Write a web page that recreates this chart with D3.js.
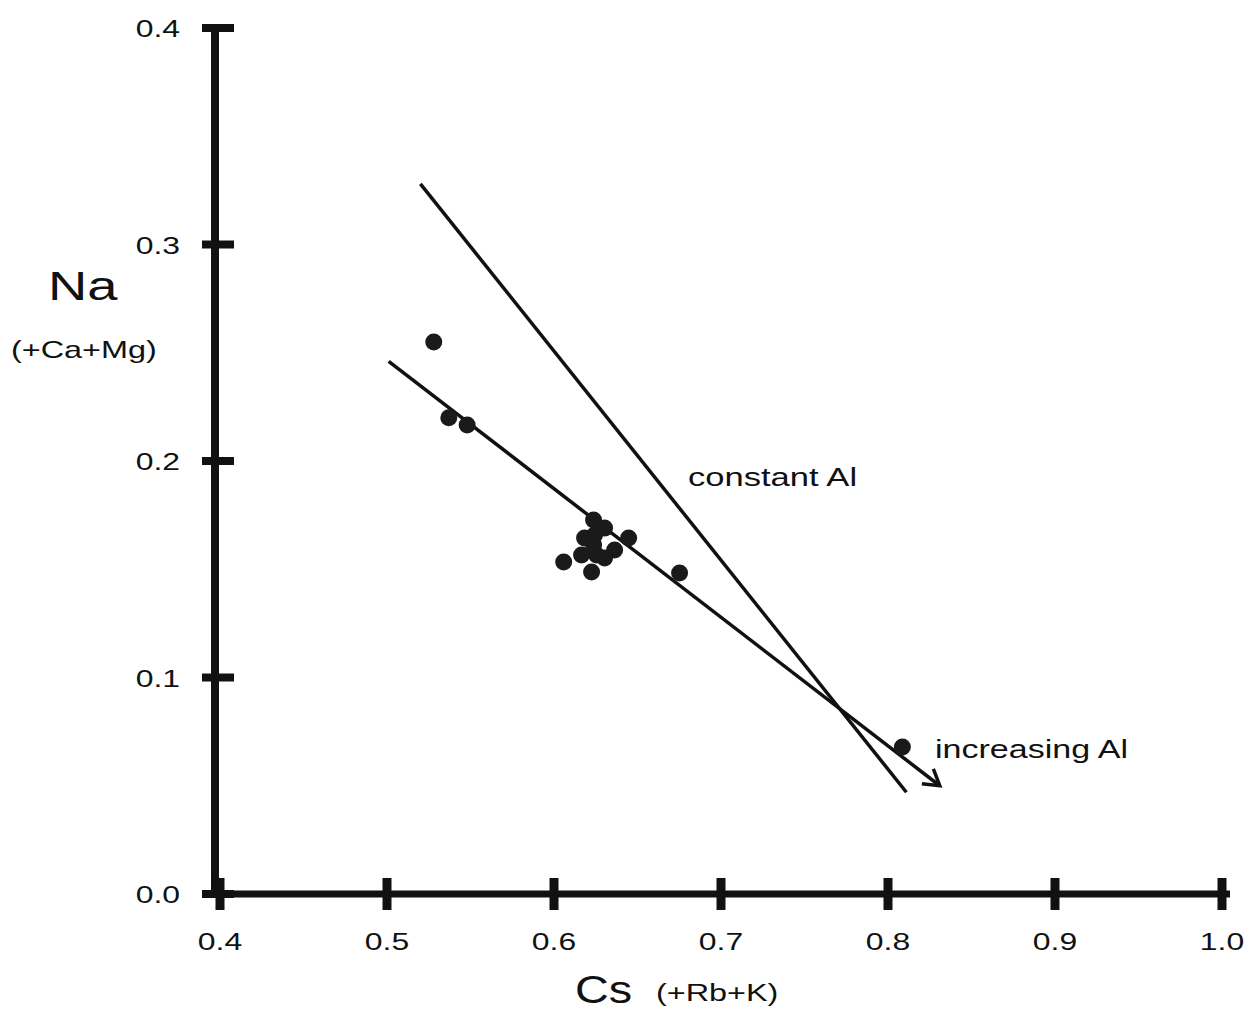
<!DOCTYPE html>
<html><head><meta charset="utf-8">
<script src="https://cdn.jsdelivr.net/npm/d3@7"></script>
<style>body{margin:0;background:#fff}text{font-family:"Liberation Sans",Arial,sans-serif;fill:#111}</style>
</head><body><svg id="c" width="1248" height="1023"></svg>
<script>
const xTicks = [0.4,0.5,0.6,0.7,0.8,0.9,1.0];
const yTicks = [0.0,0.1,0.2,0.3,0.4];
const ptX = [0.528,0.537,0.548,0.6237,0.6303,0.6183,0.6243,0.6447,0.6363,0.6165,0.6255,0.6058,0.6225,0.6237,0.6303,0.6752,0.8086];
const ptY = [0.255,0.220,0.2166,0.1727,0.1690,0.1644,0.1658,0.1644,0.1589,0.1566,0.1566,0.1533,0.1487,0.1612,0.1552,0.1483,0.0679];
const constLine = {x:[0.520,0.811], y:[0.328,0.047]};
const fitLine = {x:[0.501,0.831], y:[0.246,0.050]};
const labels = ["constant Al","increasing Al"];

const svg = d3.select("#c");
const x = d3.scaleLinear().domain([0.4,1.0]).range([220,1222]);
const y = d3.scaleLinear().domain([0,0.4]).range([894,28]);

function txt(tx, ty, size, sx, anchor, s){
  return svg.append("text").attr("transform",`translate(${tx},${ty}) scale(${sx},1)`)
    .attr("font-size",size).attr("text-anchor",anchor||"start").text(s);
}

// axes lines
svg.append("line").attr("x1",x(0.4)-5).attr("x2",x(0.4)-5).attr("y1",y(0.4)-4).attr("y2",y(0)+4)
  .attr("stroke","#111").attr("stroke-width",8);
svg.append("line").attr("x1",x(0.4)-10).attr("x2",x(1.0)+8).attr("y1",y(0)).attr("y2",y(0))
  .attr("stroke","#111").attr("stroke-width",7);

// y ticks
svg.selectAll(".yt").data(yTicks).join("line")
  .attr("x1",x(0.4)-18).attr("x2",x(0.4)+14).attr("y1",d=>y(d)).attr("y2",d=>y(d))
  .attr("stroke","#111").attr("stroke-width",8);
yTicks.forEach(d=>txt(180, y(d)+9, 24, 1.33, "end", d.toFixed(1)));

// x ticks
svg.selectAll(".xt").data(xTicks).join("line")
  .attr("x1",d=>x(d)).attr("x2",d=>x(d)).attr("y1",y(0)-16).attr("y2",y(0)+16)
  .attr("stroke","#111").attr("stroke-width",9);
xTicks.forEach(d=>txt(x(d), 950, 24, 1.33, "middle", d.toFixed(1)));

// axis titles
txt(48, 300, 40, 1.36, "start", "Na");
txt(11, 358, 24, 1.35, "start", "(+Ca+Mg)");
txt(575, 1003, 39, 1.2, "start", "Cs");
txt(656, 1001, 24, 1.35, "start", "(+Rb+K)");

// lines
svg.append("line").attr("x1",x(constLine.x[0])).attr("y1",y(constLine.y[0]))
  .attr("x2",x(constLine.x[1])).attr("y2",y(constLine.y[1])).attr("stroke","#111").attr("stroke-width",3.5);
const fx1=x(fitLine.x[0]), fy1=y(fitLine.y[0]), fx2=x(fitLine.x[1]), fy2=y(fitLine.y[1]);
svg.append("line").attr("x1",fx1).attr("y1",fy1).attr("x2",fx2).attr("y2",fy2).attr("stroke","#111").attr("stroke-width",3.5);
// arrow head
const ang = Math.atan2(fy2-fy1, fx2-fx1), L=18, spread=0.55;
const p1=[fx2-L*Math.cos(ang-spread), fy2-L*Math.sin(ang-spread)];
const p2=[fx2-L*Math.cos(ang+spread), fy2-L*Math.sin(ang+spread)];
svg.append("path").attr("d",`M${p1[0]},${p1[1]}L${fx2},${fy2}L${p2[0]},${p2[1]}`)
  .attr("fill","none").attr("stroke","#111").attr("stroke-width",3.5).attr("stroke-linejoin","miter");

// points
svg.selectAll(".pt").data(ptX.map((v,i)=>[v,ptY[i]])).join("circle")
  .attr("cx",d=>x(d[0])).attr("cy",d=>y(d[1])).attr("r",8.5).attr("fill","#1a1a1a");

// annotations
txt(688, 486, 26, 1.33, "start", labels[0]);
txt(935, 758, 26, 1.31, "start", labels[1]);
</script></body></html>
